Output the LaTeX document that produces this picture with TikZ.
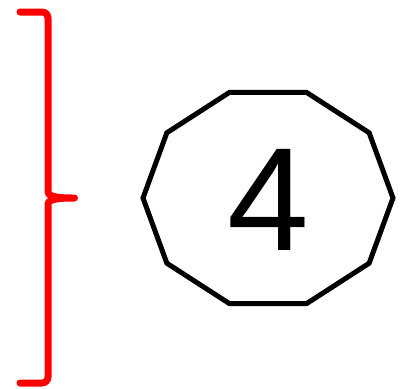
\documentclass[tikz,border=0pt]{standalone}
\usepackage{fontspec}
\usepackage{xcolor}
\usepackage{tikz}
\setmainfont{Liberation Sans}
\definecolor{cRed}{HTML}{FF0000}

\begin{document}
\begin{tikzpicture}[
  x=1pt, y=-1pt,
  bracket/.style={draw=cRed, line width=7pt, line cap=round, line join=round},
  deca/.style={draw=black, line width=5pt, line join=miter},
  number/.style={font=\fontsize{147}{147}\selectfont, inner sep=0pt},
]
\useasboundingbox (0,0) rectangle (401,388);
%
% ─── BRACE ───
\coordinate (top) at (20,12);
\coordinate (tip) at (78,198);
\coordinate (bot) at (20,383);
\draw[bracket, rounded corners=6pt] (top) -- (48,12) -- (48,186)
  .. controls (48,195) and (52,198) .. (tip)
  .. controls (52,198) and (48,201) .. (48,210) -- (48,383) -- (bot);
%
% ─── DECAGON ───
\node[number] (four) at (268,200) {4};
\draw[deca, shift={(268,198)}] (0:125 and 111)
  \foreach \a in {36,72,...,324} { -- (\a:125 and 111) } -- cycle;

\end{tikzpicture}
\end{document}
